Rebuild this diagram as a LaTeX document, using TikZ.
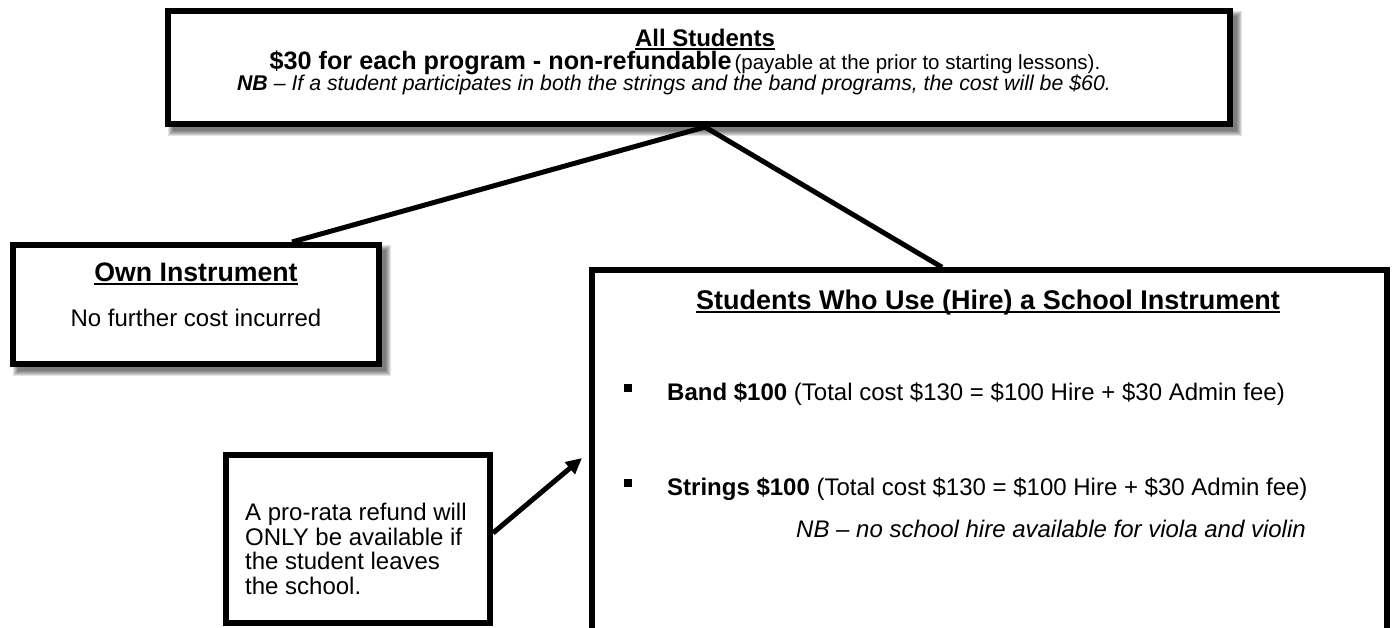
\documentclass[tikz,border=0pt]{standalone}
\usepackage{fontspec}
\setmainfont{Liberation Sans}
\usetikzlibrary{arrows.meta}
\newcommand\myul[1]{\setbox0\hbox{#1}\rlap{\rule[-3.5pt]{\wd0}{1.8pt}}\box0}
\newcommand\softshadow[4]{%
  \foreach \d in {3,2,1,0,-1,-2}{%
    \fill[black,opacity=0.11] (#1+6-\d,#2+6-\d) rectangle (#3+6+\d,#4+6+\d);}}
\begin{document}
\begin{tikzpicture}[x=1pt,y=-1pt,
  box/.style={draw=black, line width=6pt, fill=white, inner sep=0pt},
  conn/.style={line width=5pt},
  txt/.style={inner sep=0pt, anchor=base},
  body/.style={font=\fontsize{24}{28}\selectfont},
  bullet/.style={fill=black, minimum size=8pt, inner sep=0pt},
]
\useasboundingbox (0,0) rectangle (1392,627);
\clip (0,0) rectangle (1392,627);

% shadows
\softshadow{165}{8}{1233}{127}
\softshadow{10}{242}{382}{367}

% boxes
\node[box, minimum width=1062pt, minimum height=113pt] (all) at (699,67.5) {};
\node[box, minimum width=366pt, minimum height=119pt] (own) at (196,304.5) {};
\node[box, line width=5.5pt, minimum width=795pt, minimum height=380pt] (big) at (989.5,460) {};
\node[box, minimum width=264pt, minimum height=168pt] (ref) at (358,539) {};

% connectors
\draw[conn] ([xshift=6pt]all.south) -- ([xshift=96pt]own.north);
\draw[conn] ([xshift=6pt]all.south) -- ([xshift=-47.5pt]big.north);
\coordinate (tip) at (582,458);
\draw[conn, -{Triangle[length=16pt,width=15pt]}] ([yshift=6pt]ref.east) -- (tip);

% top box text
\node[txt, font=\fontsize{24}{28}\selectfont\bfseries] (t1) at (705,46) {\myul{All Students}};
\node[txt] (t2) at (685,69) {{\fontsize{25.2}{28}\selectfont\bfseries \$30 for each program - non-refundable} {\fontsize{20.5}{24}\selectfont (payable at the prior to starting lessons).}};
\node[txt, font=\fontsize{21.3}{24}\selectfont\itshape] (t3) at (674,90) {\textbf{NB} -- If a student participates in both the strings and the band programs, the cost will be \$60.};

% own instrument text
\node[txt, font=\fontsize{26.7}{30}\selectfont\bfseries] (o1) at (196,281) {\myul{Own Instrument}};
\node[txt, body] (o2) at (196,326) {No further cost incurred};

% big box text
\node[txt, font=\fontsize{27}{30}\selectfont\bfseries] (h1) at (988,309) {\myul{Students Who Use (Hire) a School Instrument}};
\node[bullet] (b1) at (628,388) {};
\node[txt, body, anchor=base west] (h2) at (667,400) {\textbf{Band \$100} (Total cost \$130 = \$100 Hire + \$30 Admin fee)};
\node[bullet] (b2) at (628,483) {};
\node[txt, body, anchor=base west] (h3) at (667,495) {\textbf{Strings \$100} (Total cost \$130 = \$100 Hire + \$30 Admin fee)};
\node[txt, body, anchor=base west, font=\fontsize{24}{28}\selectfont\itshape] (h4) at (796,537) {NB -- no school hire available for viola and violin};

% refund text
\node[txt, body, anchor=base west] (r1) at (245,520.5) {A pro-rata refund will};
\node[txt, body, anchor=base west] (r2) at (245,545) {ONLY be available if};
\node[txt, body, anchor=base west] (r3) at (245,569.5) {the student leaves};
\node[txt, body, anchor=base west] (r4) at (245,594) {the school.};
\end{tikzpicture}
\end{document}
